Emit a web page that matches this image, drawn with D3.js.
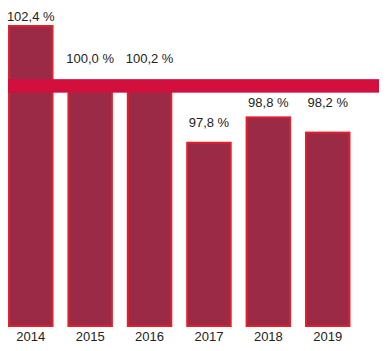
<!DOCTYPE html>
<html><head><meta charset="utf-8">
<script src="https://cdn.jsdelivr.net/npm/d3@7/dist/d3.min.js"></script>
<style>html,body{margin:0;padding:0;background:#fff;}svg{display:block;}</style>
</head><body>
<script>
const years = ["2014","2015","2016","2017","2018","2019"];
const values = [102.4, 100.0, 100.2, 97.8, 98.8, 98.2];
const labels = ["102,4 %","100,0 %","100,2 %","97,8 %","98,8 %","98,2 %"];
const referenceValue = 100;

// layout tweaks (pixel offsets of value labels above bar tops)
const labelOffset = [4, 23, 18, 15, 9, 25];

const W = 392, H = 351;
const svg = d3.select("body").append("svg").attr("width", W).attr("height", H);

const x = d3.scaleBand().domain(years).range([8, 350.5]).paddingInner(0.234).paddingOuter(0);
const y = d3.scaleLinear().domain([90.5, 102.4]).range([327, 25]);

const font = "'Liberation Sans', Arial, sans-serif";

svg.append("g").selectAll("rect").data(years).join("rect")
  .attr("x", d => x(d) + 1)
  .attr("y", (d, i) => y(values[i]) + 1)
  .attr("width", x.bandwidth() - 2)
  .attr("height", (d, i) => y.range()[0] - y(values[i]) - 2)
  .attr("fill", "#9b2a47")
  .attr("stroke", "#e1202b")
  .attr("stroke-width", 2);

// reference band at 100
svg.append("rect")
  .attr("x", 8).attr("width", 379 - 8)
  .attr("y", y(referenceValue) - 6.75).attr("height", 13.5)
  .attr("fill", "#d30f3e");

svg.append("g").selectAll("text").data(years).join("text")
  .attr("x", d => x(d) + x.bandwidth() / 2)
  .attr("y", (d, i) => y(values[i]) - labelOffset[i])
  .attr("text-anchor", "middle")
  .attr("font-family", font).attr("font-size", 13).attr("fill", "#222")
  .text((d, i) => labels[i]);

const xAxis = svg.append("g").attr("transform", `translate(0,${y.range()[0]})`)
  .call(d3.axisBottom(x).tickSize(0).tickPadding(5));
xAxis.select(".domain").remove();
xAxis.selectAll("text").attr("font-family", font).attr("font-size", 13).attr("fill", "#222");
</script>
</body></html>
